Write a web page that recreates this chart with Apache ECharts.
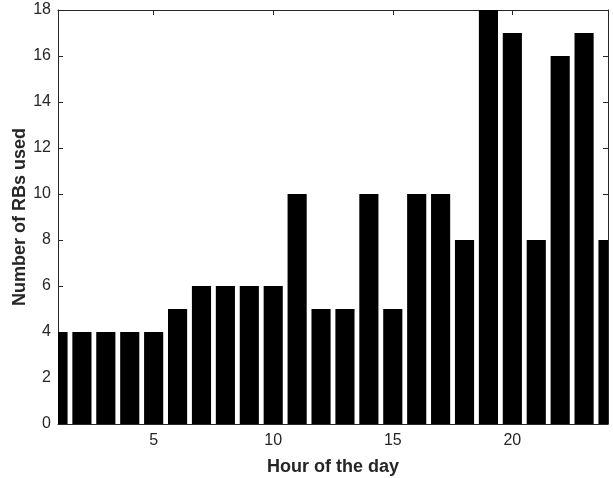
<!DOCTYPE html>
<html>
<head>
<meta charset="utf-8">
<script src="https://cdn.jsdelivr.net/npm/echarts@6/dist/echarts.min.js"></script>
<style>html,body{margin:0;padding:0;background:#fff;}#c{width:613px;height:478px;}</style>
</head>
<body>
<div id="c"></div>
<script>
const hours = [1,2,3,4,5,6,7,8,9,10,11,12,13,14,15,16,17,18,19,20,21,22,23,24];
const rbsUsed = [4,4,4,4,4,5,6,6,6,6,10,5,5,10,5,10,10,8,18,17,8,16,17,8];
const xTicks = [5,10,15,20];
const yTicks = [0,2,4,6,8,10,12,14,16,18];

const axisColor = '#262626';
const font = 'Liberation Sans, Arial, Helvetica, sans-serif';
const chart = echarts.init(document.getElementById('c'), null, {renderer:'canvas'});
const data = hours.map((h,i)=>[h, rbsUsed[i]]);
const tickStyle = {inside:true, length:5, lineStyle:{color:axisColor, width:1}};
chart.setOption({
  animation:false,
  grid:{left:58, right:5, top:10, bottom:54, containLabel:false, outerBoundsMode:'none'},
  xAxis:[{
    type:'value', min:1, max:24, position:'bottom',
    name:'Hour of the day', nameLocation:'middle', nameGap:34, nameMoveOverlap:false,
    nameTextStyle:{fontFamily:font, fontSize:18, fontWeight:'bold', color:axisColor},
    axisLine:{show:true, onZero:false, lineStyle:{color:axisColor, width:1}},
    axisTick:Object.assign({customValues:xTicks}, tickStyle),
    axisLabel:{customValues:xTicks, fontFamily:font, fontSize:16, color:axisColor, margin:9},
    splitLine:{show:false}
  },{
    type:'value', min:1, max:24, position:'top',
    axisLine:{show:true, onZero:false, lineStyle:{color:axisColor, width:1}},
    axisTick:Object.assign({customValues:xTicks}, tickStyle),
    axisLabel:{show:false}, splitLine:{show:false}
  }],
  yAxis:[{
    type:'value', min:0, max:18, interval:2, position:'left',
    name:'Number of RBs used', nameLocation:'middle', nameGap:29, nameMoveOverlap:false,
    nameTextStyle:{fontFamily:font, fontSize:18, fontWeight:'bold', color:axisColor},
    axisLine:{show:true, onZero:false, lineStyle:{color:axisColor, width:1}},
    axisTick:tickStyle,
    axisLabel:{customValues:yTicks, fontFamily:font, fontSize:16, color:axisColor, margin:7},
    splitLine:{show:false}
  },{
    type:'value', min:0, max:18, interval:2, position:'right',
    axisLine:{show:true, onZero:false, lineStyle:{color:axisColor, width:1}},
    axisTick:tickStyle,
    axisLabel:{show:false}, splitLine:{show:false}
  }],
  series:[{
    type:'custom', xAxisIndex:0, yAxisIndex:0,
    data:data, encode:{x:0, y:1},
    renderItem:function(params, api){
      const xv = api.value(0), yv = api.value(1);
      const top = api.coord([xv, yv]);
      const base = api.coord([xv, 0]);
      const w = api.size([0.8, 0])[0];
      const cs = params.coordSys;
      const shape = echarts.graphic.clipRectByRect(
        {x: top[0]-w/2, y: top[1], width: w, height: base[1]-top[1]},
        {x: cs.x, y: cs.y, width: cs.width, height: cs.height});
      if (!shape) return null;
      return {type:'rect', shape: shape, style:{fill:'#000'}};
    }
  }]
});
</script>
</body>
</html>
